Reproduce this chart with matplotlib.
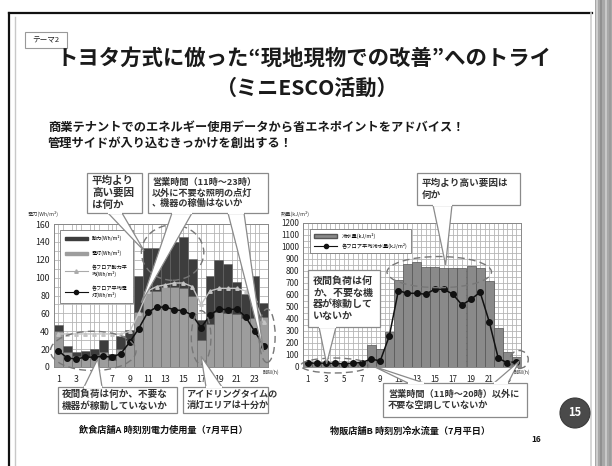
import matplotlib
matplotlib.use("Agg")
import matplotlib.pyplot as plt
from matplotlib.patches import Rectangle, Polygon, Ellipse, Circle
from matplotlib.lines import Line2D
import numpy as np

plt.rcParams['font.family'] = ['Noto Sans CJK JP', 'DejaVu Sans']

W, H = 612, 466  # lienzo en px (dpi 100)

# --- datos -----------------------------------------------------------
horas = list(range(1, 25))
ticks_horas = [1, 3, 5, 7, 9, 11, 13, 15, 17, 19, 21, 23]

# 飲食店舗A 時刻別電力使用量 (Wh/m2)
a_dento = [40, 17, 12, 11, 13, 17, 8, 20, 30, 62, 85, 85,
           90, 90, 88, 80, 30, 48, 62, 60, 59, 55, 55, 56]
a_doryoku = [7, 7, 5, 7, 7, 13, 6, 15, 11, 40, 48, 48,
             47, 50, 57, 41, 23, 54, 58, 55, 36, 27, 47, 16]
a_prom_doryoku = [37, 37, 37, 37, 37, 37, 37, 37, 40, 60, 85, 90,
                  92, 94, 94, 90, 70, 85, 88, 88, 88, 85, 75, 50]
a_prom_dento = [18, 10, 9, 11, 11, 12, 11, 15, 28, 43, 61, 67,
                67, 64, 63, 58, 44, 58, 65, 64, 65, 56, 40, 24]
a_yticks = [0, 20, 40, 60, 80, 100, 120, 140, 160]

# 物販店舗B 時刻別冷水流量 (kJ/m2)
b_reisui = [40, 35, 35, 30, 35, 35, 40, 180, 145, 293, 720, 860,
            878, 836, 836, 825, 825, 825, 838, 824, 718, 323, 123, 80]
b_prom = [30, 30, 30, 28, 25, 30, 35, 64, 48, 256, 635, 613,
          613, 605, 647, 647, 605, 516, 563, 622, 376, 70, 33, 42]
b_yticks = [0, 100, 200, 300, 400, 500, 600, 700, 800, 900, 1000, 1100, 1200]

fig = plt.figure(figsize=(W / 100, H / 100), dpi=100)
fig.patch.set_facecolor("white")


def caja_fig(x0, y0, x1, y1):
    """px (origen arriba-izq) -> rect de figura"""
    return [x0 / W, 1 - y1 / H, (x1 - x0) / W, (y1 - y0) / H]


def estilo_ejes(ax):
    ax.set_axisbelow(True)
    ax.tick_params(length=0, labelsize=6.3, colors="#222", pad=3)
    ax.tick_params(axis="x", pad=6)
    for s in ax.spines.values():
        s.set_color("#888")
        s.set_linewidth(0.7)


# --- grafico A -------------------------------------------------------
axA = fig.add_axes(caja_fig(54, 224, 268, 367))
axA.bar(horas, a_dento, width=1.0, color="#9d9d9d", edgecolor="#666",
        linewidth=0.4, zorder=2)
axA.bar(horas, a_doryoku, width=1.0, bottom=a_dento, color="#3d3d3d",
        edgecolor="#666", linewidth=0.4, zorder=2)
axA.plot(horas, a_prom_doryoku, color="#c4c4c4", lw=1.0, marker="^",
         ms=2.5, zorder=3)
axA.plot(horas, a_prom_dento, color="#111", lw=1.1, marker="o", ms=4,
         zorder=4)
axA.set_xlim(0.5, 24.5)
axA.set_ylim(0, 160)
axA.set_xticks(ticks_horas)
axA.set_yticks(a_yticks)
axA.set_xticks(np.arange(0.5, 25, 1), minor=True)
axA.set_yticks(np.arange(0, 161, 10), minor=True)
axA.tick_params(which="minor", length=0)
axA.grid(True, which="both", color="#b5b5b5", lw=0.6)
estilo_ejes(axA)
for (cx, cy, w, h) in [(13.8, 128, 7.0, 62), (4.9, 18, 9.6, 44),
                       (17.0, 33, 2.2, 60), (24.4, 35, 1.8, 60)]:
    axA.add_patch(Ellipse((cx, cy), w, h, fill=False, ec="#777",
                          ls=(0, (5, 3)), lw=1.0, zorder=5, clip_on=False))
hA = [Rectangle((0, 0), 1, 1, fc="#3d3d3d", ec="#3d3d3d"),
      Rectangle((0, 0), 1, 1, fc="#9d9d9d", ec="#9d9d9d"),
      Line2D([], [], color="#aaa", marker="^", ms=2.5, lw=0.8),
      Line2D([], [], color="#111", marker="o", ms=3, lw=0.8)]
legA = axA.legend(hA, ["動力(Wh/m²)", "電灯(Wh/m²)", "各フロア動力平\n均(Wh/m²)",
                       "各フロア平均電\n灯(Wh/m²)"],
                  loc="upper left", bbox_to_anchor=(0.015, 0.975),
                  fontsize=3.7, handlelength=4.4, handleheight=0.6,
                  labelspacing=1.7, borderpad=1.0, fancybox=False,
                  framealpha=1, edgecolor="#777")
legA.get_frame().set_linewidth(0.6)
legA.set_zorder(6)

# --- grafico B -------------------------------------------------------
axB = fig.add_axes(caja_fig(303, 223, 521, 366.7))
axB.bar(horas, b_reisui, width=1.0, color="#8a8a8a", edgecolor="#555",
        linewidth=0.5, zorder=2)
axB.plot(horas, b_prom, color="#111", lw=1.1, marker="o", ms=4, zorder=4)
axB.set_xlim(0.5, 24.5)
axB.set_ylim(0, 1200)
axB.set_xticks(ticks_horas)
axB.set_yticks(b_yticks)
axB.set_xticks(np.arange(0.5, 24.6, 0.5), minor=True)
axB.set_yticks(np.arange(0, 1201, 50), minor=True)
axB.tick_params(which="minor", length=0)
axB.grid(True, which="both", color="#b5b5b5", lw=0.6)
estilo_ejes(axB)
axB.tick_params(labelsize=5.8)
for (cx, cy, w, h) in [(4.0, 10, 7.5, 125), (15.5, 790, 11.5, 260),
                       (24.3, 60, 2.0, 150)]:
    axB.add_patch(Ellipse((cx, cy), w, h, fill=False, ec="#777",
                          ls=(0, (5, 3)), lw=1.0, zorder=5, clip_on=False))
hB = [Rectangle((0, 0), 1, 1, fc="#8a8a8a", ec="#555"),
      Line2D([], [], color="#111", marker="o", ms=3, lw=0.8)]
legB = axB.legend(hB, ["冷水量(kJ/m²)", "各フロア平均冷水量(kJ/m²)"],
                  loc="upper left", bbox_to_anchor=(0.02, 0.975),
                  fontsize=3.8, handlelength=4.5, handleheight=0.6,
                  labelspacing=0.8, borderpad=0.7, fancybox=False,
                  framealpha=1, edgecolor="#777")
legB.get_frame().set_linewidth(0.6)
legB.set_zorder(6)

# --- capa superior en px -------------------------------------------
ov = fig.add_axes([0, 0, 1, 1], zorder=10)
ov.set_xlim(0, W)
ov.set_ylim(H, 0)
ov.axis("off")
ov.patch.set_alpha(0)


def a_px(ax, x, y):
    dx, dy = ax.transData.transform((x, y))
    return dx * 100 / fig.dpi, H - dy * 100 / fig.dpi


def globo(caja, texto, puntas, fs=7.0, ls=1.25, pad=5):
    x0, y0, x1, y1 = caja
    for (b0, b1, ax, tip) in puntas:
        t = a_px(ax, *tip)
        ov.add_patch(Polygon([b0, b1, t], closed=True, fc="white",
                             ec="#8a8a8a", lw=0.9, zorder=10))
    ov.add_patch(Rectangle((x0, y0), x1 - x0, y1 - y0, fc="white",
                           ec="#8a8a8a", lw=0.9, zorder=11))
    for (b0, b1, ax, tip) in puntas:
        ov.plot([b0[0], b1[0]], [b0[1], b1[1]], color="white", lw=1.6,
                solid_capstyle="butt", zorder=12)
    ov.text(x0 + pad, (y0 + y1) / 2, texto, fontsize=fs, weight="bold",
            color="#333", va="center", ha="left", linespacing=ls, zorder=13)


globo((87, 173, 142, 213), "平均より\n高い要因\nは何か",
      [((108, 213), (122, 213), axA, (10.6, 130))], fs=7.6)
globo((148, 173, 268, 213), "営業時間（11時～23時）\n以外に不要な照明の点灯\n、機器の稼働はないか",
      [((172, 213), (192, 213), axA, (10.3, 72)),
       ((228, 213), (244, 213), axA, (24.0, 17))], fs=6.6, pad=4)
globo((58, 387, 177, 413), "夜間負荷は何か、不要な\n機器が稼動していないか",
      [((84, 387), (102, 387), axA, (5.4, 9))], fs=6.9, pad=4)
globo((183, 387, 268, 413), "アイドリングタイムの\n消灯エリアは十分か",
      [((206, 387), (222, 387), axA, (17.0, 12))], fs=6.6, pad=4)

globo((417, 173, 520, 205), "平均より高い要因は\n何か",
      [((433, 205), (452, 205), axB, (16.2, 850))], fs=6.9)
globo((308, 270, 380, 327), "夜間負荷は何\nか、不要な機\n器が稼動して\nいないか",
      [((319, 327), (336, 327), axB, (3.1, 25))], fs=7.2, ls=1.2)
globo((383, 383, 527, 417), "営業時間（11時～20時）以外に\n不要な空調していないか",
      [((408, 383), (424, 383), axB, (8.2, 5)),
       ((494, 383), (508, 383), axB, (24.3, 45))], fs=6.6)

# ejes: rotulos
ov.text(28, 214, "電力(Wh/m²)", fontsize=3.8, color="#333", va="center")
ov.text(281, 214, "熱量(kJ/m²)", fontsize=3.8, color="#333", va="center")
ov.text(263, 372, "時刻(h)", fontsize=3.6, color="#333", va="center", zorder=14)
ov.text(514, 372, "時刻(h)", fontsize=3.6, color="#333", va="center", zorder=14)

# marco de la diapositiva
ov.plot([9, 9], [13, H], color="#111", lw=1.6, zorder=1)
ov.plot([9, 592], [13, 13], color="#111", lw=1.6, zorder=1)
ov.plot([15, 15], [17, H], color="#c8c8c8", lw=1.0, zorder=1)
ov.plot([591, 591], [13, H], color="#d0d0d0", lw=1.2, zorder=1)
ov.add_patch(Rectangle((595, 0), 17, H, fc="#a8a8a8", ec="none", zorder=1))
for xx, cc in [(597, "#d6d6d6"), (601, "#8c8c8c"), (606, "#cfcfcf"), (610, "#9a9a9a")]:
    ov.plot([xx, xx], [0, H], color=cc, lw=1.2, zorder=1)

# titulo
ov.add_patch(Rectangle((25, 32), 42, 16, fc="white", ec="#999", lw=0.8))
ov.text(46, 40, "テーマ2", fontsize=5.5, ha="center", va="center",
        color="#222")
ov.text(304, 58, "トヨタ方式に倣った“現地現物での改善”へのトライ",
        fontsize=15.4, ha="center", va="center", weight="bold", color="#1a1a1a")
ov.text(306, 88, "（ミニESCO活動）", fontsize=15.2, ha="center",
        va="center", weight="bold", color="#1a1a1a")
ov.text(48, 127, "商業テナントでのエネルギー使用データから省エネポイントをアドバイス！",
        fontsize=8.8, ha="left", va="center", weight="bold", color="#1a1a1a")
ov.text(48, 143, "管理サイドが入り込むきっかけを創出する！",
        fontsize=8.8, ha="left", va="center", weight="bold", color="#1a1a1a")

# pies
ov.text(163, 430, "飲食店舗A 時刻別電力使用量（7月平日）", fontsize=6.6,
        ha="center", va="center", weight="bold", color="#111")
ov.text(410, 431, "物販店舗B 時刻別冷水流量（7月平日）", fontsize=6.6,
        ha="center", va="center", weight="bold", color="#111")
ov.text(536, 439, "16", fontsize=6, ha="center", va="center",
        weight="bold", color="#111")
ov.add_patch(Circle((575, 413), 15, fc="#4a4a4a", ec="#3a3a3a", lw=0.8))
ov.text(575, 413, "15", fontsize=8, ha="center", va="center",
        weight="bold", color="white")

fig.savefig("out.png", dpi=100)
